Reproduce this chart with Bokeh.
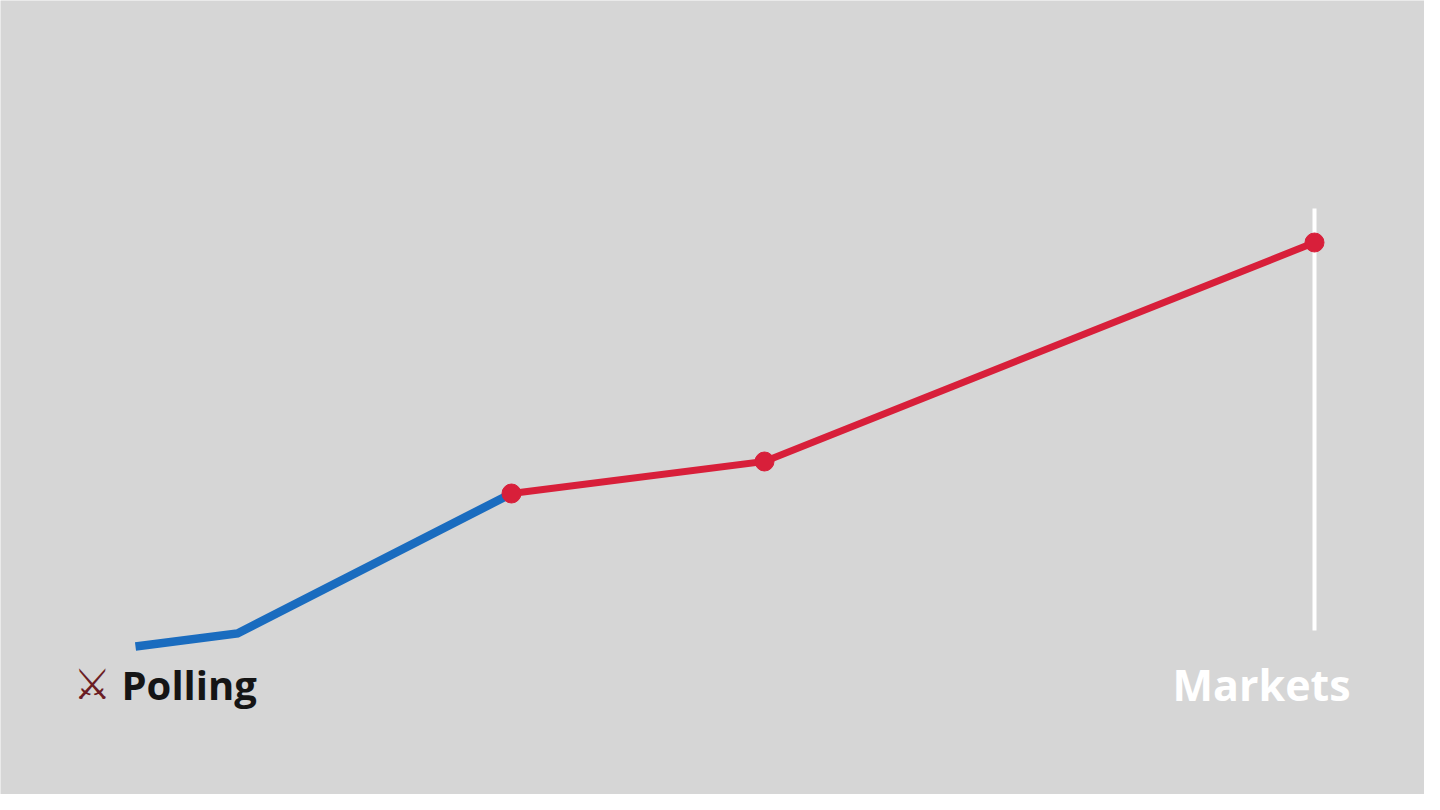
from bokeh.plotting import figure
from bokeh.models import Range1d
from bokeh.core.properties import value
from bokeh.embed import file_html
from bokeh.resources import INLINE

# data
poll_x = [1.27, 2.29, 5.03]
poll_y = [1.56, 1.69, 3.09]
mkt_x = [5.03, 7.56, 13.06]
mkt_y = [3.09, 3.41, 5.60]
labels = ["Polling", "Markets"]

W, H = 1424, 794
p = figure(width=W, height=H, output_backend="svg", toolbar_location=None,
           x_range=Range1d(-0.08, W / 100 - 0.08), y_range=Range1d(0.08, H / 100 + 0.08),
           min_border=0, min_border_left=0, min_border_right=0,
           min_border_top=0, min_border_bottom=0)
p.axis.visible = False
p.grid.visible = False
p.outline_line_color = None
p.background_fill_color = "#d6d6d6"
p.border_fill_color = "#d6d6d6"

# white marker line at latest market point
p.segment(x0=[mkt_x[-1]], y0=[mkt_y[0] - 1.37], x1=[mkt_x[-1]], y1=[mkt_y[-1] + 0.34],
          line_color="white", line_width=4)

p.line(poll_x, poll_y, line_color="#1a6cbf", line_width=8.5, line_join="miter")
p.line(mkt_x, mkt_y, line_color="#d81f3a", line_width=7, line_join="round")
p.scatter(mkt_x, mkt_y, size=19, fill_color="#d81f3a", line_color="#d81f3a")

label_y = poll_y[0] - 0.38
p.text(x=[poll_x[0] - 0.14], y=[label_y], text=[labels[0]],
       text_font=value("Open Sans"), text_font_size="40px", text_font_style="bold",
       text_color="#151515", text_baseline="alphabetic", text_align="left")
p.text(x=[poll_x[0] - 0.62], y=[label_y], text=["⚔"],
       text_font=value("DejaVu Sans"), text_font_size="42px",
       text_color="#6b1d24", text_baseline="alphabetic", text_align="left")
p.text(x=[mkt_x[-1] - 0.53], y=[label_y], text=[labels[1]],
       text_font=value("Open Sans"), text_font_size="43px", text_font_style="bold",
       text_color="white", text_baseline="alphabetic", text_align="center")

open("out.html", "w").write(file_html(p, INLINE))
